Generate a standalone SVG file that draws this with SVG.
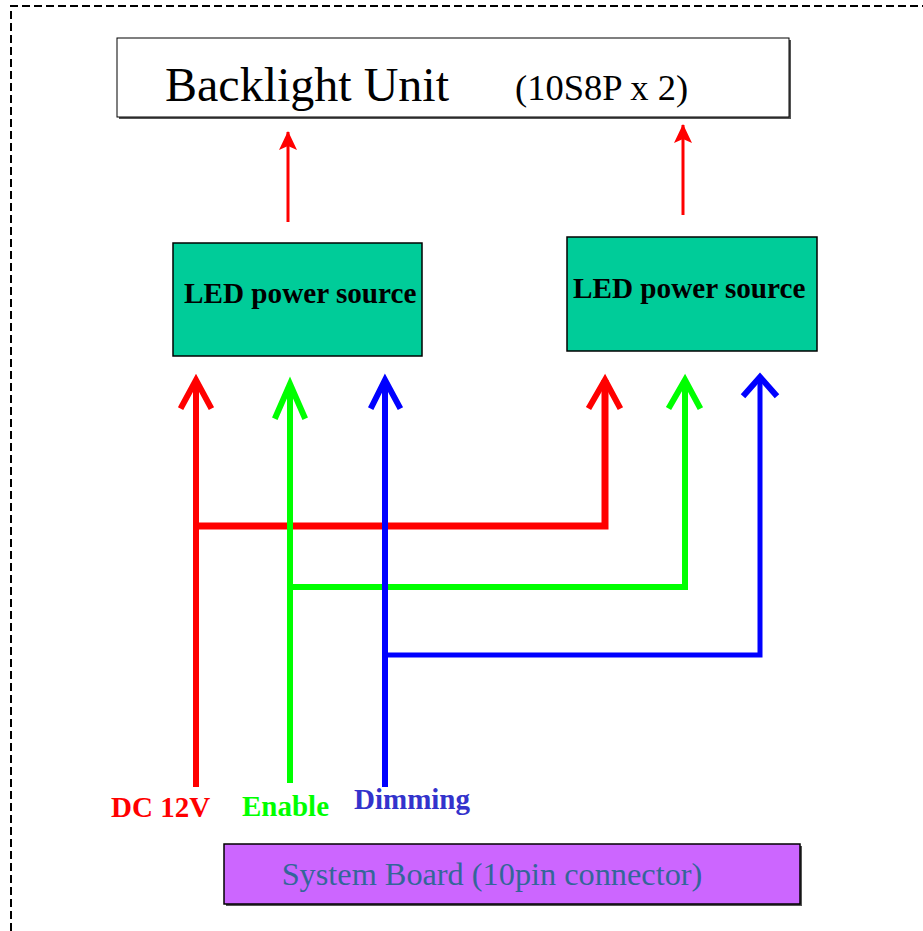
<svg xmlns="http://www.w3.org/2000/svg" width="923" height="931" viewBox="0 0 923 931">
<defs>
<marker id="thinHead" viewBox="0 0 20 20" refX="19" refY="10" markerWidth="20" markerHeight="20" markerUnits="userSpaceOnUse" orient="auto">
<path d="M20,10 L1,1 L5,10 L1,19 Z" fill="#FF0000"/>
</marker>
</defs>
<style>
.serif{font-family:"Liberation Serif","Times New Roman",serif;}
.bold{font-weight:bold;}
.box{stroke:#000;stroke-width:1.5;}
.led{fill:#00CC99;}
.wire{fill:none;stroke-linejoin:miter;stroke-linecap:butt;}
.head{fill:none;stroke-linecap:square;stroke-linejoin:miter;}
</style>
<rect width="923" height="931" fill="#FFFFFF"/>
<path d="M11,931 L11,6 L923,6" fill="none" stroke="#000" stroke-width="2" stroke-dasharray="8,4"/>

<g id="backlight-unit">
<rect x="119" y="40" width="672" height="79" fill="#555"/>
<rect x="117" y="38" width="672" height="79" fill="#FFF" stroke="#000" stroke-width="1"/>
<text x="165" y="101" class="serif" font-size="48" fill="#000">Backlight Unit</text>
<text x="515" y="100" class="serif" font-size="36.5" fill="#000">(10S8P x 2)</text>
</g>

<g id="led-power-source-1">
<rect x="173" y="243" width="249" height="113" class="led box"/>
<text x="184" y="303" class="serif bold" font-size="29.2" fill="#000">LED power source</text>
</g>

<g id="led-power-source-2">
<rect x="567" y="237" width="250" height="114" class="led box"/>
<text x="573" y="298" class="serif bold" font-size="29.2" fill="#000">LED power source</text>
</g>

<g id="system-board">
<rect x="226" y="846" width="576" height="60" fill="#555"/>
<rect x="224" y="844" width="576" height="60" fill="#CC66FF" stroke="#000" stroke-width="1.5"/>
<text x="492" y="885" text-anchor="middle" class="serif" font-size="32.3" fill="#336699">System Board (10pin connector)</text>
</g>

<g id="labels">
<text x="111" y="817" class="serif bold" font-size="29" fill="#FF0000">DC 12V</text>
<text x="242" y="816" class="serif bold" font-size="29" fill="#00FF00">Enable</text>
<text x="354" y="809" class="serif bold" font-size="29" fill="#3333CC">Dimming</text>
</g>

<g id="connectors">
<line x1="288" y1="222" x2="288" y2="132" stroke="#FF0000" stroke-width="3" marker-end="url(#thinHead)"/>
<line x1="683" y1="215" x2="683" y2="125" stroke="#FF0000" stroke-width="3" marker-end="url(#thinHead)"/>

<g stroke="#FF0000">
<path class="wire" d="M196,787 L196,380" stroke-width="6"/>
<path class="wire" d="M196,526 L605,526 L605,380" stroke-width="7"/>
<path class="head" d="M182,406 L196,380 L210,406" stroke-width="6"/>
<path class="head" d="M590,406 L605,380 L619,406" stroke-width="6"/>
</g>
<g stroke="#00FF00">
<path class="wire" d="M290,783 L290,384" stroke-width="6"/>
<path class="wire" d="M290,587 L685,587 L685,380" stroke-width="6"/>
<path class="head" d="M276,416 L290,384 L304,416" stroke-width="6"/>
<path class="head" d="M670,406 L685,380 L699,406" stroke-width="6"/>
</g>
<g stroke="#0000FF">
<path class="wire" d="M385,787 L385,380" stroke-width="6"/>
<path class="wire" d="M385,655 L760,655 L760,377" stroke-width="5"/>
<path class="head" d="M372,406 L385,380 L399,406" stroke-width="6"/>
<path class="head" d="M745,394 L760,377 L775,394" stroke-width="6"/>
</g>
</g>
</svg>
